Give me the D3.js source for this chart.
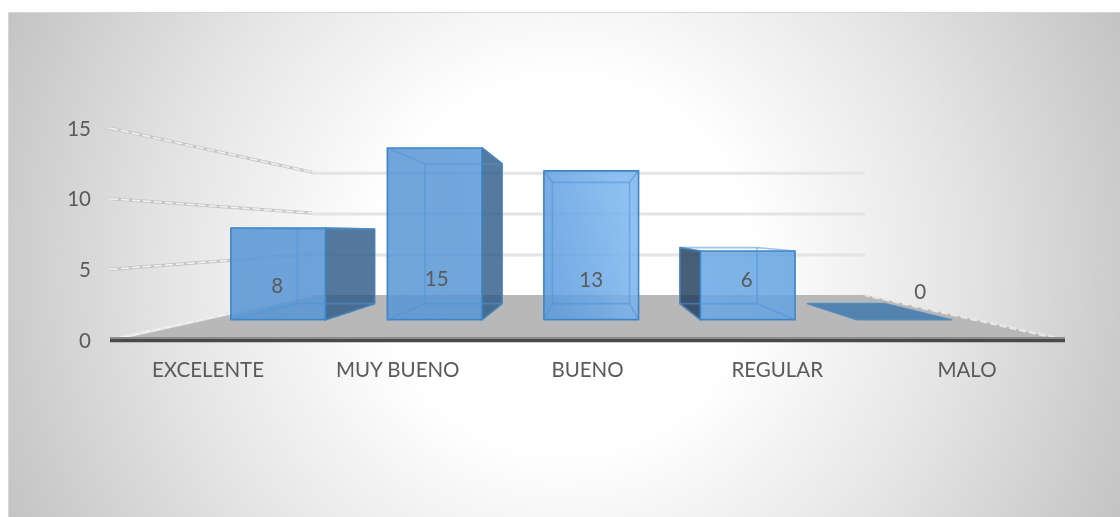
<!DOCTYPE html>
<html><head><meta charset="utf-8">
<script src="https://cdn.jsdelivr.net/npm/d3@7"></script>
<style>html,body{margin:0;padding:0;background:#fff}svg{display:block}text{font-family:Lato,"Open Sans",sans-serif;fill:#5a5a5a}</style>
</head><body><svg id="c" width="1120" height="517"></svg>
<script>
const categories = ["EXCELENTE","MUY BUENO","BUENO","REGULAR","MALO"];
const values = [8,15,13,6,0];
const valueTicks = [0,5,10,15];

const W=1120,H=517;
const svg=d3.select("#c");
const defs=svg.append("defs");
const bg=defs.append("radialGradient").attr("id","bg").attr("gradientUnits","userSpaceOnUse")
  .attr("cx",564).attr("cy",265).attr("r",620);
[[0,"#fff"],[.3,"#fff"],[.62,"#e6e6e6"],[1,"#c2c2c2"]].forEach(s=>bg.append("stop").attr("offset",s[0]).attr("stop-color",s[1]));
const fg=defs.append("linearGradient").attr("id","front").attr("gradientUnits","userSpaceOnUse")
  .attr("x1",231).attr("x2",794).attr("y1",320).attr("y2",200);
[[0,"#5595d3"],[.42,"#5796d5"],[.55,"#5a9bdd"],[.72,"#7db6f0"],[.8,"#6aa7e6"],[1,"#62a2e0"]].forEach(s=>fg.append("stop").attr("offset",s[0]).attr("stop-color",s[1]));
defs.append("filter").attr("id","soft").attr("x","-5%").attr("y","-5%").attr("width","110%").attr("height","110%")
  .append("feGaussianBlur").attr("stdDeviation",0.7);
defs.append("filter").attr("id","softT").attr("x","-20%").attr("y","-20%").attr("width","140%").attr("height","140%")
  .append("feGaussianBlur").attr("stdDeviation",0.4);

svg.append("rect").attr("x",8.5).attr("y",12.5).attr("width",W-8).attr("height",H-12)
  .attr("fill","url(#bg)").attr("stroke","#d6d6d6");

// perspective projection: depth k scales every point toward the vanishing point
const VP=[590,233], kBack=0.579, kBarFront=0.81, kBarBack=0.66;
const y=d3.scaleLinear().domain([0,15]).range([340,128]);
const xFloor=d3.scaleLinear().domain([0,1]).range([110,1065]);
const xBand=d3.scaleBand().domain(categories).range([108,1075]).paddingInner(0.395).paddingOuter(0.2);
const project=(X,v,k)=>[VP[0]+(X-VP[0])*k, VP[1]+(y(v)-VP[1])*k];
const poly=pts=>pts.map(p=>p.join(",")).join(" ");

const g=svg.append("g").attr("filter","url(#soft)");

// floor
g.append("polygon").attr("points",poly([project(xFloor(0),0,1),project(xFloor(1),0,1),project(xFloor(1),0,kBack),project(xFloor(0),0,kBack)]))
  .attr("fill","#b8b8b8");

// back wall gridlines + left wall lines
valueTicks.forEach(t=>{
  const a=project(xFloor(0),t,1), b=project(xFloor(0),t,kBack), c=project(xFloor(1),t,kBack);
  if(t>0){
    g.append("line").attr("x1",b[0]).attr("y1",b[1]+1).attr("x2",c[0]).attr("y2",c[1]+1).attr("stroke","#e4e4e4").attr("stroke-width",3);
  }
  g.append("line").attr("x1",a[0]).attr("y1",a[1]).attr("x2",b[0]).attr("y2",b[1]).attr("stroke",t>0?"#c6c6c6":"#e6e6e6").attr("stroke-width",3.2);
  g.append("line").attr("x1",a[0]).attr("y1",a[1]).attr("x2",b[0]).attr("y2",b[1]).attr("stroke","#f2f2f2").attr("stroke-width",1.5).attr("stroke-dasharray","8 3");
});
// right floor edge highlight
{
  const a=project(xFloor(1),0,1), b=project(xFloor(1),0,kBack);
  g.append("line").attr("x1",a[0]).attr("y1",a[1]).attr("x2",b[0]).attr("y2",b[1]).attr("stroke","#e8e8e8").attr("stroke-width",2.5).attr("stroke-dasharray","7 3");
}

// front floor edge
g.append("line").attr("x1",xFloor(0)).attr("x2",xFloor(1)).attr("y1",y(0)-2).attr("y2",y(0)-2).attr("stroke","#8c8c8c").attr("stroke-width",2);
g.append("line").attr("x1",xFloor(0)).attr("x2",xFloor(1)).attr("y1",y(0)+0.6).attr("y2",y(0)+0.6).attr("stroke","#4a4a4a").attr("stroke-width",3.4);

// bars
const EDGE="#3f83c0";
categories.forEach((cat,i)=>{
  const v=values[i], x0=xBand(cat), x1=x0+xBand.bandwidth();
  const f=(x,val)=>project(x,val,kBarFront), b=(x,val)=>project(x,val,kBarBack);
  const bar=g.append("g");
  const face=(pts,fill,op,stroke,so)=>bar.append("polygon").attr("points",poly(pts)).attr("fill",fill).attr("fill-opacity",op)
    .attr("stroke",stroke||EDGE).attr("stroke-opacity",so===undefined?.85:so).attr("stroke-width",1.6).attr("stroke-linejoin","round");
  if(v===0){
    face([f(x0,0),f(x1,0),b(x1,0),b(x0,0)],"#3f78ad",.85,"#4f88bb");
    return;
  }
  // the side facing away from the vanishing point is shaded
  const outerRight = x1<VP[0];
  const dark = outerRight ? [f(x1,0),b(x1,0),b(x1,v),f(x1,v)] : (x0>VP[0] ? [f(x0,0),b(x0,0),b(x0,v),f(x0,v)] : null);
  if(dark) face(dark, outerRight?"#2a5986":"#1b3856", .8, "#33689a");
  // front face, then the see-through inner edges on top of it
  face([f(x0,0),f(x1,0),f(x1,v),f(x0,v)],"url(#front)",.85,"#3d85c6",1);
  const inner=(a,c)=>bar.append("line").attr("x1",a[0]).attr("y1",a[1]).attr("x2",c[0]).attr("y2",c[1])
    .attr("stroke","#4f93d3").attr("stroke-opacity",.55).attr("stroke-width",1.6);
  const vis=[[b(x0,0),b(x1,0)],[b(x0,v),b(x1,v)],[b(x0,0),b(x0,v)],[b(x1,0),b(x1,v)],
             [f(x0,0),b(x0,0)],[f(x1,0),b(x1,0)],[f(x0,v),b(x0,v)],[f(x1,v),b(x1,v)]];
  vis.forEach(s=>inner(s[0],s[1]));
});

// value axis labels
const t=svg.append("g").attr("filter","url(#softT)").attr("font-size",20.5);
valueTicks.forEach(v=>t.append("text").attr("x",91).attr("y",y(v)+7.5).attr("text-anchor","end").text(v));
// category labels
const catX=d3.scalePoint().domain(categories).range([208,967]);
categories.forEach(c=>t.append("text").attr("x",catX(c)).attr("y",376.5).attr("text-anchor","middle").text(c));
// data labels, placed beside each bar's front face
const labelOffset=[[-1,293],[2,286],[0,287],[-1,287],[16,299]];
categories.forEach((c,i)=>{
  const cx=project(xBand(c)+xBand.bandwidth()/2,0,kBarFront)[0];
  t.append("text").attr("x",cx+labelOffset[i][0]).attr("y",labelOffset[i][1]).attr("text-anchor","middle").text(values[i]);
});
</script></body></html>
